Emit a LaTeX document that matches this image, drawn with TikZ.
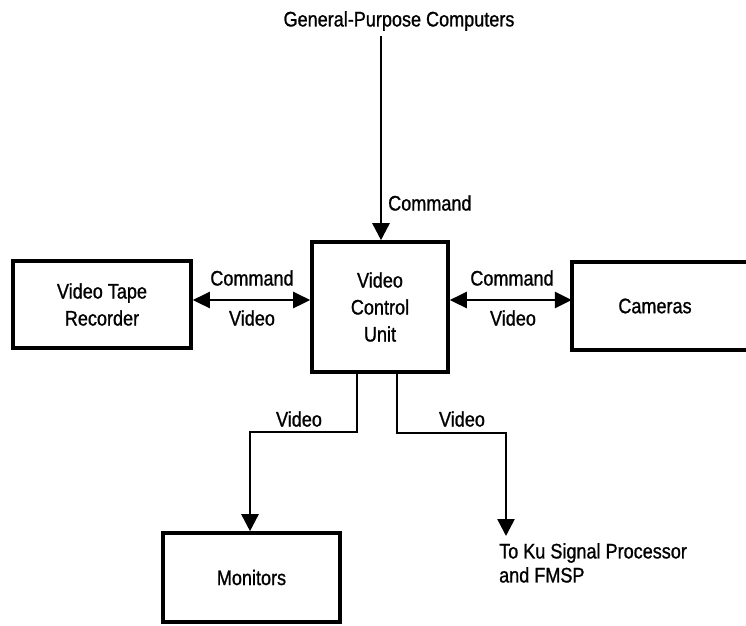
\documentclass[tikz,border=0pt]{standalone}
\usepackage{fontspec}
\setmainfont{Liberation Sans}[FakeStretch=0.86,FakeBold=1]
\usetikzlibrary{arrows.meta,calc}
\begin{document}
\begin{tikzpicture}[x=1pt,y=-1pt,
  box/.style={draw, line width=3.6pt, inner sep=0pt, align=center},
  conn/.style={line width=2.6pt, -{Triangle[length=17pt,width=17pt]}},
  biconn/.style={line width=2.6pt, {Triangle[length=17pt,width=16pt]}-{Triangle[length=17pt,width=16pt]}},
  lbl/.style={inner sep=0pt, align=center},
  font=\fontsize{21pt}{27pt}\selectfont]
\useasboundingbox (0,0) rectangle (746,625);
% boxes
\node[box, minimum width=136, minimum height=130] (vcu) at (380,307) {Video\\Control\\Unit};
\node[box, minimum width=178, minimum height=87] (vtr) at (102,304.5) {Video Tape\\Recorder};
\node[box, minimum width=177, minimum height=89] (mon) at (251.5,577.5) {Monitors};
\node[inner sep=0pt, minimum width=166, minimum height=88] (cam) at (655,306) {Cameras};
\draw[line width=3.6pt] ($(cam.north west)+(200,0)$) -| (cam.south west) -- ++(200,0);
% top source
\node[lbl] (gpc) at (399,21) {General-Purpose Computers};
\coordinate (gpcend) at (381,36);
\draw[conn] (gpcend) -- (vcu.north -| gpcend);
\node[lbl, anchor=west] (cmdtop) at (388,203) {Command};
% horizontal links
\draw[biconn] (vtr.east |- 0,300) -- (vcu.west |- 0,300);
\node[lbl] (cmdl) at (252,278) {Command};
\node[lbl] (vidl) at (252,318) {Video};
\draw[biconn] (vcu.east |- 0,300) -- (cam.west |- 0,300);
\node[lbl] (cmdr) at (512,278) {Command};
\node[lbl] (vidr) at (513,318) {Video};
% bottom links
\coordinate (ku) at (506,536);
\draw[conn] (vcu.south -| 357,0) |- (250,432) -- (mon.north -| 250,0);
\node[lbl] (vidbl) at (299,419) {Video};
\draw[conn] (vcu.south -| 397,0) |- (506,433) -- (ku);
\node[lbl] (vidbr) at (462,419) {Video};
\node[lbl, anchor=north west, align=left, font=\fontsize{21pt}{24pt}\selectfont] (kutext) at (499,543) {To Ku Signal Processor\\and FMSP};
\end{tikzpicture}
\end{document}
